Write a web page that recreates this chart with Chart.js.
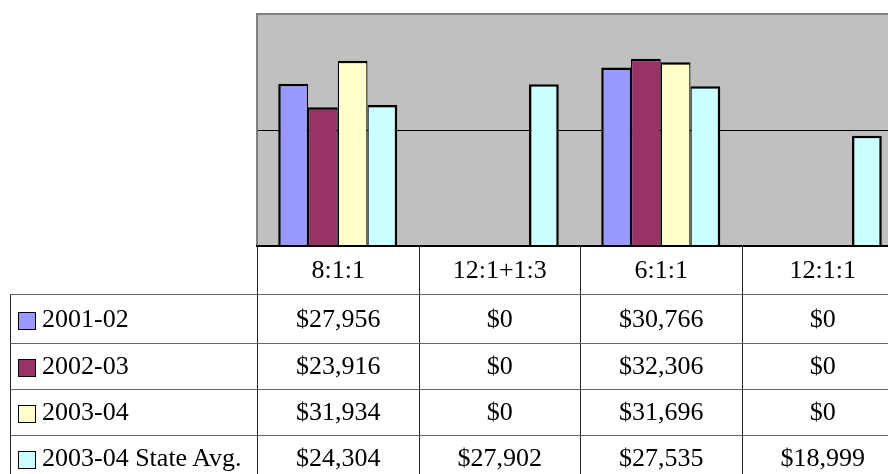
<!DOCTYPE html>
<html>
<head>
<meta charset="utf-8">
<script src="https://cdn.jsdelivr.net/npm/chart.js@4.4.1/dist/chart.umd.min.js"></script>
<style>
html, body { margin: 0; padding: 0; width: 888px; height: 474px; overflow: hidden; background: #fff; }
#wrap { position: absolute; left: 0; top: 0; width: 910px; height: 474px; }
#grid { position: absolute; border-collapse: collapse; table-layout: fixed;
        font-family: "Liberation Serif", "Times New Roman", serif; font-size: 26px; color: #000; }
#grid td { padding: 0; text-align: center; white-space: nowrap; overflow: hidden;
           border-left: 1px solid #222; border-right: 1px solid #222; border-bottom: 1px solid #666; }
#grid td.blank { border-left: none; border-top: none; }
#grid td.name { text-align: left; padding-left: 7px; }
.key { display: inline-block; width: 16px; height: 16px; border: 1.5px solid #000; vertical-align: -3px; margin-right: 6px; }
</style>
</head>
<body>
<div id="wrap">
  <canvas id="barChart" width="910" height="474"></canvas>
  <table id="grid"></table>
</div>
<script>
// data
const categories = ['8:1:1', '12:1+1:3', '6:1:1', '12:1:1'];
const seriesNames = ['2001-02', '2002-03', '2003-04', '2003-04 State Avg.'];
const values2001 = [27956, 0, 30766, 0];
const values2002 = [23916, 0, 32306, 0];
const values2003 = [31934, 0, 31696, 0];
const valuesState = [24304, 27902, 27535, 18999];
const yTicks = [0, 20000, 40000];

const allSeries = [values2001, values2002, values2003, valuesState];
const colors = ['#9999FF', '#993366', '#FFFFCC', '#CCFFFF'];

// bars sit side by side, so neighbours share the border between them
function barBorder(ctx) {
    var d = ctx.datasetIndex, i = ctx.dataIndex;
    if (i === undefined) return 2;
    var prev = d > 0 && allSeries[d - 1][i] > 0;
    var next = d < allSeries.length - 1 && allSeries[d + 1][i] > 0;
    return { top: 2.5, left: prev ? 1.25 : 2.5, right: next ? 1.25 : 2.5, bottom: 0 };
}

const plotBox = {
    id: 'plotBox',
    beforeDraw: function(chart) {
        var a = chart.chartArea, c = chart.ctx;
        c.save();
        c.fillStyle = '#C0C0C0';
        c.fillRect(a.left, a.top, a.right - a.left, a.bottom - a.top);
        c.restore();
    },
    afterDraw: function(chart) {
        var a = chart.chartArea, c = chart.ctx;
        c.save();
        c.lineWidth = 2;
        c.strokeStyle = '#808080';
        c.beginPath();
        c.moveTo(a.left, a.bottom);
        c.lineTo(a.left, a.top);
        c.lineTo(a.right, a.top);
        c.lineTo(a.right, a.bottom);
        c.stroke();
        c.strokeStyle = '#000';
        c.beginPath();
        c.moveTo(a.left - 1, a.bottom);
        c.lineTo(a.right + 1, a.bottom);
        c.stroke();
        c.restore();
    }
};

var barData = {
    labels: categories,
    datasets: seriesNames.map(function(name, k) {
        return {
            label: name,
            data: allSeries[k],
            backgroundColor: colors[k],
            borderColor: '#000',
            borderWidth: barBorder,
            borderSkipped: 'start'
        };
    })
};

const config = {
    type: 'bar',
    data: barData,
    options: {
        responsive: false,
        animation: false,
        layout: { padding: { left: 257, top: 14, right: 7, bottom: 228 } },
        datasets: { bar: { categoryPercentage: 0.737, barPercentage: 1 } },
        plugins: { legend: { display: false }, tooltip: { enabled: false } },
        scales: {
            x: { display: false },
            y: {
                min: yTicks[0],
                max: yTicks[yTicks.length - 1],
                ticks: { display: false, stepSize: yTicks[1] - yTicks[0] },
                border: { display: false },
                grid: {
                    drawTicks: false,
                    lineWidth: 1,
                    color: function(ctx) {
                        return ctx.tick && ctx.tick.value === yTicks[1] ? '#000' : 'rgba(0,0,0,0)';
                    }
                }
            }
        }
    },
    plugins: [plotBox]
};

const barChart = new Chart(document.getElementById('barChart'), config);

// data table under the plot, columns lined up with the category scale
var xs = barChart.scales.x;
var area = barChart.chartArea;
var catW = xs.getPixelForValue(1) - xs.getPixelForValue(0);
var firstEdge = xs.getPixelForValue(0) - catW / 2;
var tableLeft = 10;
var rowH = [48, 49, 46, 46, 46];

function money(v) { return '$' + v.toLocaleString('en-US'); }

var html = '<colgroup><col style="width:' + (firstEdge - tableLeft) + 'px">';
for (var i = 0; i < categories.length; i++) html += '<col style="width:' + catW + 'px">';
html += '</colgroup>';
html += '<tr style="height:' + rowH[0] + 'px"><td class="blank"></td>';
for (var i = 0; i < categories.length; i++) html += '<td>' + categories[i] + '</td>';
html += '</tr>';
for (var k = 0; k < seriesNames.length; k++) {
    html += '<tr style="height:' + rowH[k + 1] + 'px"><td class="name"><span class="key" style="background:' +
        colors[k] + '"></span>' + seriesNames[k] + '</td>';
    for (var i = 0; i < categories.length; i++) html += '<td>' + money(allSeries[k][i]) + '</td>';
    html += '</tr>';
}
var grid = document.getElementById('grid');
grid.innerHTML = html;
grid.style.left = tableLeft + 'px';
grid.style.top = area.bottom + 'px';
grid.style.width = (firstEdge - tableLeft + catW * categories.length) + 'px';
</script>
</body>
</html>
